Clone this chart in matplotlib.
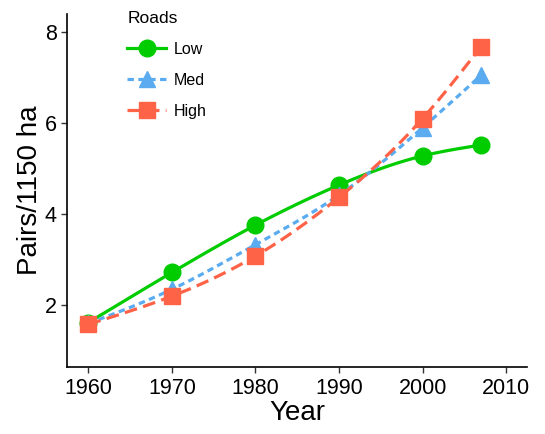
import numpy as np
import matplotlib.pyplot as plt

plt.rcParams['font.family'] = ['Liberation Sans', 'DejaVu Sans']

# Data
years = [1960, 1970, 1980, 1990, 2000, 2007]
low = [1.62, 2.72, 3.76, 4.64, 5.28, 5.52]
med = [1.60, 2.35, 3.33, 4.42, 5.90, 7.05]
high = [1.58, 2.20, 3.08, 4.37, 6.10, 7.68]
labels = ['Low', 'Med', 'High']
colors = ['#00cc00', '#5aabf0', '#ff6347']
markers = ['o', '^', 's']
styles = ['-', (0, (2, 1.4)), (0, (4, 2))]


def spline(x, y, n=200):
    # natural cubic spline through the points
    x = np.asarray(x, float)
    y = np.asarray(y, float)
    k = len(x)
    h = np.diff(x)
    A = np.zeros((k, k))
    b = np.zeros(k)
    A[0, 0] = A[-1, -1] = 1
    for i in range(1, k - 1):
        A[i, i - 1] = h[i - 1]
        A[i, i] = 2 * (h[i - 1] + h[i])
        A[i, i + 1] = h[i]
        b[i] = 3 * ((y[i + 1] - y[i]) / h[i] - (y[i] - y[i - 1]) / h[i - 1])
    c = np.linalg.solve(A, b)
    xs = np.linspace(x[0], x[-1], n)
    ys = np.empty_like(xs)
    for j, xv in enumerate(xs):
        i = min(np.searchsorted(x, xv, side='right') - 1, k - 2)
        dx = xv - x[i]
        bb = (y[i + 1] - y[i]) / h[i] - h[i] * (2 * c[i] + c[i + 1]) / 3
        d = (c[i + 1] - c[i]) / (3 * h[i])
        ys[j] = y[i] + bb * dx + c[i] * dx ** 2 + d * dx ** 3
    return xs, ys


fig = plt.figure(figsize=(5.45, 4.34), dpi=100)
ax = fig.add_axes([0.123, 0.154, 0.844, 0.814])

for vals, lab, col, mk, ls in zip([low, med, high], labels, colors, markers, styles):
    xs, ys = spline(years, vals)
    ax.plot(xs, ys, color=col, lw=2.3, ls=ls)
    ax.plot(years, vals, ls='none', marker=mk, color=col, markersize=12)
    ax.plot([], [], color=col, lw=2.3, ls=ls, marker=mk, markersize=12, label=lab)

ax.set_xlim(1957.45, 2012.5)
ax.set_ylim(0.64, 8.4)
ax.set_xticks([1960, 1970, 1980, 1990, 2000, 2010])
ax.set_yticks([2, 4, 6, 8])
ax.tick_params(labelsize=15.5, length=4, width=1, direction='out', color='#333333')
ax.spines['top'].set_visible(False)
ax.spines['right'].set_visible(False)
ax.spines['left'].set_linewidth(1.2)
ax.spines['bottom'].set_linewidth(1.2)
ax.set_xlabel('Year', fontsize=20, labelpad=1)
ax.set_ylabel('Pairs/1150 ha', fontsize=20, labelpad=1)

leg = ax.legend(title='Roads', loc='upper left', bbox_to_anchor=(0.1, 1.05),
                frameon=False, fontsize=11.5, title_fontsize=12.5,
                handlelength=2.4, handletextpad=0.5, labelspacing=1.0,
                alignment='left')

fig.savefig('out.png', dpi=100)
